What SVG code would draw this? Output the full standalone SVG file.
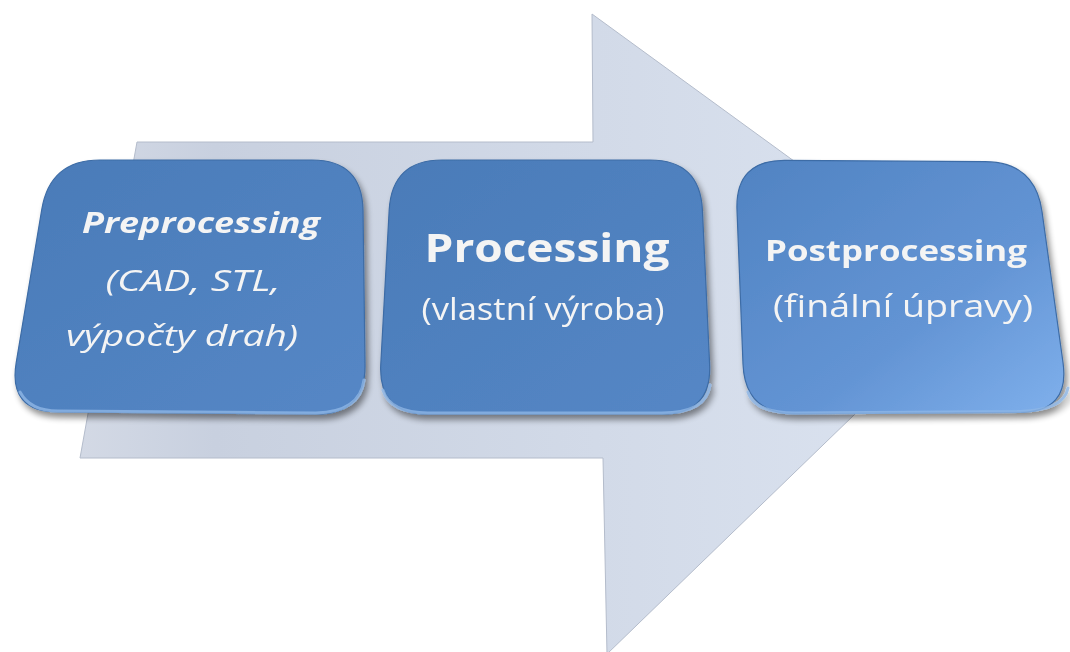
<svg xmlns="http://www.w3.org/2000/svg" width="1070" height="652" viewBox="0 0 1070 652">
<defs>
<linearGradient id="arrowGrad" x1="0" y1="0" x2="1" y2="0">
<stop offset="0" stop-color="#d3d9e5"/>
<stop offset="0.15" stop-color="#c8d0df"/>
<stop offset="1" stop-color="#dce4f1"/>
</linearGradient>
<linearGradient id="boxGrad" x1="0" y1="0" x2="1" y2="1">
<stop offset="0" stop-color="#4a7bb8"/>
<stop offset="1" stop-color="#5587c6"/>
</linearGradient>
<linearGradient id="boxGrad3" x1="0" y1="0" x2="1" y2="1">
<stop offset="0" stop-color="#5083c2"/>
<stop offset="0.6" stop-color="#6394d4"/>
<stop offset="1" stop-color="#7fb0ec"/>
</linearGradient>
<filter id="shadow" x="-10%" y="-10%" width="125%" height="130%">
<feGaussianBlur in="SourceAlpha" stdDeviation="3"/>
<feOffset dx="3" dy="5" result="b"/>
<feComponentTransfer><feFuncA type="linear" slope="0.45"/></feComponentTransfer>
<feMerge><feMergeNode/><feMergeNode in="SourceGraphic"/></feMerge>
</filter>
</defs>
<style>
.box{stroke:#3d6ca6;stroke-width:1.2}
.bevel{fill:none;stroke:#8fb6e6;stroke-width:3;stroke-linecap:round;opacity:0.8}
.t{fill:#f4f4f4;font-family:"Open Sans",Lato,"Liberation Sans",sans-serif;text-anchor:middle}
.b{font-weight:bold}
.i{font-style:italic}
</style>
<rect width="1070" height="652" fill="#ffffff"/>
<g id="connectors">
<polygon id="arrow" points="137,142 593,142 592,14 978,295 607,654 603,458 80,458" fill="url(#arrowGrad)" stroke="#b4bccb" stroke-width="1"/>
</g>
<g id="node-preprocessing" filter="url(#shadow)">
<path class="box" fill="url(#boxGrad)" d="M100,160 L312,160 Q362,160 363,210 L365,364 Q366,414 316,414 L58,412 Q8,412 16.2,362.7 L41.8,209.3 Q50,160 100,160 Z"/>
<path class="bevel" d="M20,392 Q30,411 58,411 L316,413 Q360,412 364,380"/>
<text class="t b i" x="201" y="233" font-size="28" textLength="238" lengthAdjust="spacingAndGlyphs">Preprocessing</text>
<text class="t i" x="193" y="291" font-size="30" textLength="175" lengthAdjust="spacingAndGlyphs">(CAD, STL,</text>
<text class="t i" x="182" y="346" font-size="30" textLength="232" lengthAdjust="spacingAndGlyphs">výpočty drah)</text>
</g>
<g id="node-processing" filter="url(#shadow)">
<path class="box" fill="url(#boxGrad)" d="M442,160 L650,160 Q700,160 702.4,210 L709.6,364 Q712,414 662,414 L428,414 Q378,414 380.8,364 L389.2,210 Q392,160 442,160 Z"/>
<path class="bevel" d="M383,390 Q390,413 428,413 L662,413 Q706,413 710,385"/>
<text class="t b" x="547" y="262" font-size="40" textLength="245" lengthAdjust="spacingAndGlyphs">Processing</text>
<text class="t" x="543" y="320" font-size="31" textLength="243" lengthAdjust="spacingAndGlyphs">(vlastní výroba)</text>
</g>
<g id="node-postprocessing" filter="url(#shadow)">
<path class="box" fill="url(#boxGrad3)" d="M785,160.3 L985,161.7 Q1035,162 1042,211.5 L1063,362.5 Q1070,412 1020,412.3 L795,413.7 Q745,414 743,364 L737,210 Q735,160 785,160.3 Z"/>
<path class="bevel" d="M748,392 Q755,413 795,413 L1020,411.5 Q1064,410 1068,388"/>
<text class="t b" x="896" y="261" font-size="29" textLength="262" lengthAdjust="spacingAndGlyphs">Postprocessing</text>
<text class="t" x="903" y="317" font-size="31" textLength="260" lengthAdjust="spacingAndGlyphs">(finální úpravy)</text>
</g>
</svg>
